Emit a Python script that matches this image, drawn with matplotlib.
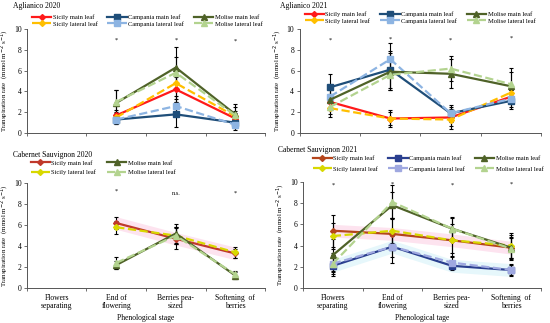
import numpy as np
import matplotlib
matplotlib.use('Agg')
import matplotlib.pyplot as plt

plt.rcParams['font.family'] = ['Liberation Serif', 'DejaVu Serif']

stages = ['Flowers\nseparating', 'End of\nflowering', 'Berries pea-\nsized', 'Softening  of\nberries']

# Aglianico 2020 (no data at flowers separating)
ag20_x = [2, 3, 4]
ag20_sicily_main = [1.7, 4.2, 1.4]
ag20_sicily_lat = [1.5, 4.8, 1.6]
ag20_campania_main = [1.3, 1.8, 1.0]
ag20_campania_lat = [1.3, 2.6, 0.8]
ag20_molise_main = [2.9, 6.3, 1.8]
ag20_molise_lat = [3.0, 5.8, 1.7]
ag20_err = {
    'sm': [0.5, 1.2, 0.5], 'sl': [0.5, 1.5, 0.5],
    'cm': [0.4, 1.2, 0.5], 'cl': [0.4, 1.0, 0.5],
    'mm': [1.2, 2.0, 1.0], 'ml': [1.1, 1.5, 0.8],
}
ag20_sig = ['*', '*', '*']
ag20_sig_y = [8.9, 8.9, 8.8]

# Aglianico 2021
ag21_x = [1, 2, 3, 4]
ag21_sicily_main = [3.0, 1.4, 1.5, 3.5]
ag21_sicily_lat = [2.4, 1.4, 1.3, 3.9]
ag21_campania_main = [4.4, 6.1, 1.9, 3.1]
ag21_campania_lat = [3.5, 7.1, 1.9, 3.3]
ag21_molise_main = [3.2, 5.9, 5.7, 4.5]
ag21_molise_lat = [2.5, 5.6, 6.2, 4.7]
ag21_err = {
    'sm': [0.8, 0.8, 0.8, 0.6], 'sl': [0.6, 0.6, 0.9, 0.6],
    'cm': [1.3, 1.8, 0.8, 0.8], 'cl': [1.0, 1.6, 0.6, 0.8],
    'mm': [1.0, 1.8, 1.4, 1.4], 'ml': [1.0, 1.5, 1.2, 1.6],
}
ag21_sig = ['*', '*', '*', '*']
ag21_sig_y = [8.9, 9.0, 8.9, 9.1]

# Cabernet Sauvignon 2020 (Sicily and Molise only)
cs20_x = [2, 3, 4]
cs20_sicily_main = [6.2, 4.7, 3.3]
cs20_sicily_lat = [5.8, 5.0, 3.4]
cs20_molise_main = [2.2, 5.2, 1.2]
cs20_molise_lat = [2.4, 5.0, 1.3]
cs20_err = {
    'sm': [0.6, 1.0, 0.4], 'sl': [0.6, 0.8, 0.5],
    'mm': [0.4, 0.9, 0.3], 'ml': [0.6, 0.8, 0.3],
}
cs20_sig = ['*', 'n.s.', '*']
cs20_sig_y = [9.2, 9.0, 9.0]

# Cabernet Sauvignon 2021
cs21_x = [1, 2, 3, 4]
cs21_sicily_main = [5.4, 5.1, 4.5, 3.8]
cs21_sicily_lat = [4.9, 5.4, 4.5, 4.0]
cs21_campania_main = [2.1, 3.9, 2.1, 1.7]
cs21_campania_lat = [2.3, 3.9, 2.4, 1.7]
cs21_molise_main = [3.1, 7.8, 5.6, 3.8]
cs21_molise_lat = [2.3, 8.1, 5.6, 3.7]
cs21_err = {
    'sm': [1.5, 1.5, 1.5, 1.2], 'sl': [1.2, 1.2, 1.2, 1.2],
    'cm': [1.0, 1.5, 0.4, 0.6], 'cl': [0.8, 1.0, 0.5, 0.5],
    'mm': [1.5, 1.2, 1.1, 1.0], 'ml': [1.0, 1.6, 1.0, 1.0],
}
cs21_sig = ['*', '*', '*', '*']
cs21_sig_y = [9.7, 9.8, 9.7, 9.8]

styles = {
    'sm': dict(color='#ff1a1a', ls='-', marker='D', ms=3.0, label='Sicily main leaf'),
    'sl': dict(color='#ffbf00', ls='--', marker='D', ms=3.0, label='Sicily lateral leaf'),
    'cm': dict(color='#1f4e79', ls='-', marker='s', ms=4.2, label='Campania main leaf'),
    'cl': dict(color='#8db4e2', ls='--', marker='s', ms=4.2, label='Campania lateral leaf'),
    'mm': dict(color='#4f6228', ls='-', marker='^', ms=4.2, label='Molise main leaf'),
    'ml': dict(color='#b3d38f', ls='--', marker='^', ms=4.2, label='Molise lateral leaf'),
}

LEG_FS = 4.7

fig = plt.figure(figsize=(5.5, 3.23), dpi=100)


def draw(ax, x, series, errs, sig, sig_y, overrides=None, bands=None):
    if bands:
        for vals, col in bands:
            v = np.array(vals)
            ax.fill_between(x, v - 0.6, v + 0.6, color=col, lw=0, zorder=0)
    for key, vals in series:
        st = dict(styles[key])
        if overrides and key in overrides:
            st.update(overrides[key])
        ax.errorbar(x, vals, yerr=errs[key], ecolor='black', elinewidth=0.8,
                    capsize=1.5, capthick=0.8, zorder=2, fmt='none')
        ax.plot(x, vals, color=st['color'], ls=st['ls'], lw=1.6, marker=st['marker'],
                ms=st['ms'], mec=st['color'], label=st['label'], zorder=3)
    for xi, s, yi in zip(x, sig, sig_y):
        ax.text(xi, yi, s, ha='center', va='center', fontsize=4.5)
    ax.set_xlim(0.5, 4.5)
    ax.set_ylim(0, 10)
    ax.set_yticks(range(0, 11, 2))
    ax.set_xticks([0.5, 1.5, 2.5, 3.5, 4.5], minor=True)
    ax.tick_params(axis='x', which='minor', length=2.5, width=0.6, color='#555555')
    ax.tick_params(axis='y', labelsize=5.5, length=2.5, width=0.6, pad=1.5, color='#555555')
    for s in ['top', 'right']:
        ax.spines[s].set_visible(False)
    for s in ['left', 'bottom']:
        ax.spines[s].set_linewidth(0.7)
        ax.spines[s].set_color('#555555')
    ax.set_ylabel('Transpiration rate  (mmol m$^{-2}$ s$^{-1}$)', fontsize=5, labelpad=2)


def legend(ax, ncol, x, y, colsp, lsp=0.15):
    h, l = ax.get_legend_handles_labels()
    ax.legend(h, l, loc='upper left', bbox_to_anchor=(x, y), ncol=ncol, frameon=False,
              fontsize=LEG_FS, handlelength=3.0, handletextpad=0.2, columnspacing=colsp,
              labelspacing=lsp, borderaxespad=0, borderpad=0)


# Aglianico 2020
ax1 = fig.add_axes([0.049, 0.588, 0.433, 0.322])
draw(ax1, ag20_x,
     [('sm', ag20_sicily_main), ('sl', ag20_sicily_lat), ('cm', ag20_campania_main),
      ('cl', ag20_campania_lat), ('mm', ag20_molise_main), ('ml', ag20_molise_lat)],
     ag20_err, ag20_sig, ag20_sig_y)
ax1.set_xticks([])
legend(ax1, 3, 0.02, 1.14, 1.5)

# Aglianico 2021
ax2 = fig.add_axes([0.545, 0.588, 0.439, 0.322])
draw(ax2, ag21_x,
     [('sm', ag21_sicily_main), ('sl', ag21_sicily_lat), ('cm', ag21_campania_main),
      ('cl', ag21_campania_lat), ('mm', ag21_molise_main), ('ml', ag21_molise_lat)],
     ag21_err, ag21_sig, ag21_sig_y)
ax2.set_xticks([])
legend(ax2, 3, 0.02, 1.17, 1.5)

# Cabernet Sauvignon 2020
ax3 = fig.add_axes([0.049, 0.108, 0.433, 0.325])
draw(ax3, cs20_x,
     [('sm', cs20_sicily_main), ('sl', cs20_sicily_lat),
      ('mm', cs20_molise_main), ('ml', cs20_molise_lat)],
     cs20_err, cs20_sig, cs20_sig_y,
     overrides={'sm': dict(color='#c0392b'), 'sl': dict(color='#d8d800')},
     bands=[(cs20_sicily_main, '#fde3ef')])
legend(ax3, 2, 0.015, 1.22, 1.6, lsp=0.55)

# Cabernet Sauvignon 2021
ax4 = fig.add_axes([0.551, 0.108, 0.433, 0.329])
draw(ax4, cs21_x,
     [('sm', cs21_sicily_main), ('sl', cs21_sicily_lat), ('cm', cs21_campania_main),
      ('cl', cs21_campania_lat), ('mm', cs21_molise_main), ('ml', cs21_molise_lat)],
     cs21_err, cs21_sig, cs21_sig_y,
     overrides={'sm': dict(color='#b5451b'), 'sl': dict(color='#d8d800'),
                'cm': dict(color='#2a3f8f'), 'cl': dict(color='#9fa8e0')},
     bands=[(cs21_sicily_main, '#fde3ef'), (cs21_campania_main, '#e6f7fb')])
legend(ax4, 3, 0.04, 1.25, 1.5, lsp=0.8)

for ax, xl in [(ax3, 'Phenological stage'), (ax4, 'Phenological tage')]:
    ax.set_xticks([1, 2, 3, 4])
    ax.set_xticklabels(stages, fontsize=5.5, linespacing=1.1)
    ax.tick_params(axis='x', which='major', length=0, pad=4)
    ax.set_xlabel(xl, fontsize=5.5, labelpad=3)

fig.text(0.024, 0.982, 'Aglianico 2020', fontsize=5.5, va='center')
fig.text(0.51, 0.982, 'Aglianico 2021', fontsize=5.5, va='center')
fig.text(0.024, 0.52, 'Cabernet Sauvignon 2020', fontsize=5.5, va='center')
fig.text(0.506, 0.535, 'Cabernet Sauvignon 2021', fontsize=5.5, va='center')

fig.savefig('out.png', dpi=100)
